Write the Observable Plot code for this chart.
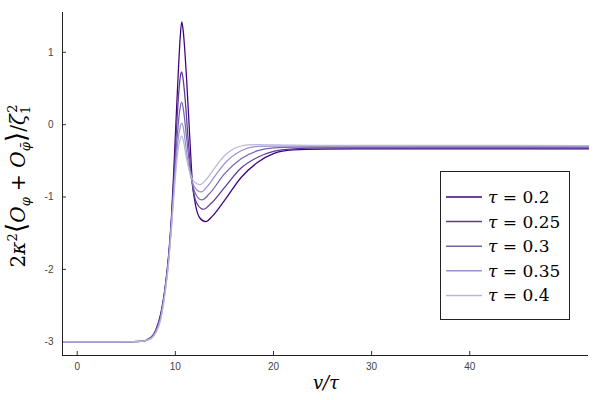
<!DOCTYPE html>
<html>
<head>
<meta charset="utf-8">
<script src="https://cdn.jsdelivr.net/npm/d3@7"></script>
<script src="https://cdn.jsdelivr.net/npm/@observablehq/plot@0.6"></script>
<style>
  html, body { margin: 0; padding: 0; background: #fff; }
  #chart { width: 600px; height: 400px; }
  .serifB, .serifB tspan { font-family: "DejaVu Serif", "Liberation Serif", serif !important; }
</style>
</head>
<body>
<div id="chart"></div>
<script>
// ---- data ----
const taus = [0.2, 0.25, 0.3, 0.35, 0.4];
const colors = ["#3f007d", "#5a3a9a", "#7464b0", "#9c94c8", "#bbb7da"];
const xTicks = [0, 10, 20, 30, 40];
const yTicks = [-3, -2, -1, 0, 1];

const s020 = [[-1.5,-3],[5,-3],[6.5,-2.995],[7.5,-2.94],[8.0,-2.84],[8.5,-2.62],[9.0,-2.2],[9.3,-1.82],[9.6,-1.28],[9.85,-0.6],[10.05,0.0],[10.3,0.73],[10.5,1.22],[10.65,1.42],[10.8,1.3],[11.0,0.95],[11.15,0.62],[11.4,0.0],[11.75,-0.82],[12.1,-1.14],[12.5,-1.29],[13.1,-1.34],[13.8,-1.26],[15,-1.05],[16.7,-0.73],[18.4,-0.52],[20,-0.40],[22,-0.35],[25,-0.338],[30,-0.335],[52.1,-0.335]];
const s025 = [[-1.5,-3],[5,-3],[6.5,-2.995],[7.5,-2.945],[8.0,-2.85],[8.5,-2.64],[9.0,-2.22],[9.3,-1.85],[9.6,-1.32],[9.85,-0.75],[10.1,-0.1],[10.35,0.45],[10.55,0.7],[10.65,0.73],[10.8,0.62],[11.0,0.35],[11.3,-0.2],[11.7,-0.8],[12.2,-1.09],[12.85,-1.17],[13.7,-1.08],[15,-0.87],[16.7,-0.60],[18.4,-0.45],[20,-0.37],[22,-0.335],[25,-0.322],[52.1,-0.32]];
const s030 = [[-1.5,-3],[5,-3],[6.5,-2.995],[7.5,-2.95],[8.0,-2.86],[8.5,-2.66],[9.0,-2.24],[9.3,-1.88],[9.6,-1.36],[9.9,-0.75],[10.2,-0.15],[10.45,0.2],[10.65,0.31],[10.85,0.18],[11.1,-0.12],[11.5,-0.6],[12.0,-0.94],[12.7,-1.04],[13.5,-0.95],[15,-0.68],[16.7,-0.47],[18.4,-0.36],[20,-0.32],[22,-0.31],[52.1,-0.308]];
const s035 = [[-1.5,-3],[5,-3],[6.5,-2.995],[7.5,-2.955],[8.0,-2.87],[8.5,-2.68],[9.0,-2.26],[9.3,-1.9],[9.6,-1.4],[9.9,-0.82],[10.2,-0.3],[10.45,-0.06],[10.65,0.02],[10.85,-0.07],[11.05,-0.28],[11.5,-0.68],[12.0,-0.87],[12.6,-0.93],[13.4,-0.83],[14.2,-0.68],[15,-0.54],[16.7,-0.36],[18.4,-0.30],[20,-0.295],[25,-0.298],[52.1,-0.298]];
const s040 = [[-1.5,-3],[5,-3],[6.5,-2.995],[7.5,-2.96],[8.0,-2.88],[8.5,-2.7],[9.0,-2.28],[9.3,-1.93],[9.6,-1.44],[9.9,-0.9],[10.2,-0.44],[10.45,-0.22],[10.65,-0.16],[10.85,-0.24],[11.1,-0.44],[11.5,-0.67],[12.0,-0.8],[12.5,-0.83],[13.2,-0.75],[14,-0.6],[15,-0.43],[16,-0.33],[16.7,-0.295],[17.5,-0.278],[18.5,-0.276],[20,-0.28],[25,-0.286],[52.1,-0.288]];

const series = [s020, s025, s030, s035, s040];
const xDomain = [-1.5, 52.1];
const yDomain = [-3.19, 1.55];

const W = 600, H = 400, mL = 62, mR = 12, mT = 12, mB = 45;
const innerW = W - mL - mR, innerH = H - mT - mB;
const fmt = d => String(d);

const plot = Plot.plot({
  width: W, height: H,
  marginLeft: mL, marginRight: mR, marginTop: mT, marginBottom: mB,
  style: {background: "#fff", fontFamily: "'Liberation Sans', 'DejaVu Sans', sans-serif", fontSize: "10px"},
  x: {domain: xDomain, label: null},
  y: {domain: yDomain, label: null},
  marks: [
    Plot.axisX(xTicks, {tickSize: 0, tickPadding: 7, fill: "#444", label: null, tickFormat: fmt}),
    Plot.axisY(yTicks, {tickSize: 0, tickPadding: 9, fill: "#444", label: null, tickFormat: fmt}),
    Plot.tickX(xTicks, {x: d => d, stroke: "#333", insetTop: innerH - 4}),
    Plot.tickY(yTicks, {y: d => d, stroke: "#333", insetRight: innerW - 4}),
    ...series.map((s, i) => Plot.line(s, {x: d => d[0], y: d => d[1], stroke: colors[i], strokeWidth: 1.25, curve: "monotone-x"})),
    Plot.ruleX([xDomain[0]], {stroke: "#222"}),
    Plot.ruleY([yDomain[0]], {stroke: "#222"})
  ]
});

document.getElementById("chart").appendChild(plot);

// ---- labels and legend ----
const svg = d3.select(plot);

// y label
const yl = svg.append("text").attr("class", "serifB")
  .attr("transform", "translate(25,186) rotate(-90)")
  .attr("text-anchor", "middle")
  .attr("font-size", 20).attr("fill", "#000");
const parts = [
  {t: "2"}, {t: "κ", it: 1}, {t: "2", sup: 1}, {t: "⟨", big: 1}, {t: "O", it: 1}, {t: "φ", sub: 1, it: 1},
  {t: " + "}, {t: "O", it: 1}, {t: "φ̄", sub: 1, it: 1}, {t: "⟩", big: 1}, {t: "/"}, {t: "ζ", it: 1},
  {t: "1", sub: 1}, {t: "2", sup: 1, back: 1}
];
let shift = 0;
parts.forEach(p => {
  const target = p.sup ? -8 : p.sub ? 5 : 0;
  const ts = yl.append("tspan").text(p.t);
  ts.attr("dy", target - shift);
  shift = target;
  if (p.sup || p.sub) ts.attr("font-size", 13);
  if (p.big) ts.attr("font-size", 27);
  if (p.it) ts.attr("font-style", "italic");
  if (p.back) ts.attr("dx", -7);
});

// x label
svg.append("text").attr("class", "serifB").attr("x", 326).attr("y", 389).attr("text-anchor", "middle")
  .attr("font-size", 18).attr("font-style", "italic").attr("fill", "#000").text("v/τ");

// legend
const lg = svg.append("g");
lg.append("rect").attr("x", 440.5).attr("y", 171.5).attr("width", 129).attr("height", 148)
  .attr("fill", "#fff").attr("stroke", "#222").attr("stroke-width", 1);
taus.forEach((t, i) => {
  const yy = 197 + i * 24.6;
  lg.append("line").attr("x1", 446).attr("x2", 482).attr("y1", yy).attr("y2", yy)
    .attr("stroke", colors[i]).attr("stroke-width", 1.5);
  const tx = lg.append("text").attr("class", "serifB").attr("x", 488).attr("y", yy + 6).attr("text-anchor", "start")
    .attr("font-size", 17).attr("fill", "#000");
  tx.append("tspan").attr("font-style", "italic").text("τ");
  tx.append("tspan").text(" = " + t);
});
</script>
</body>
</html>
